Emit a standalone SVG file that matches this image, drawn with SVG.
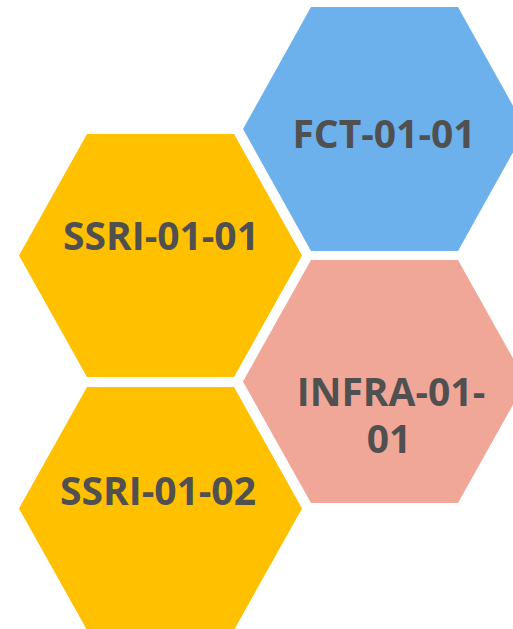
<svg xmlns="http://www.w3.org/2000/svg" width="513" height="629" viewBox="0 0 513 629">
<style>
.lbl{font-family:"Open Sans","Noto Sans","Liberation Sans",sans-serif;font-weight:bold;font-size:39px;fill:#505050;text-anchor:middle}
</style>
<rect width="513" height="629" fill="#ffffff"/>
<g id="fct">
<polygon points="311,7 458,7 526,129 458,251 311,251 243,129" fill="#6CB1EB"/>
<text class="lbl" x="384" y="148">FCT-01-01</text>
</g>
<g id="ssri1">
<polygon points="87,134 234,134 302,255.5 234,377 87,377 19,255.5" fill="#FFC000"/>
<text class="lbl" x="161" y="250">SSRI-01-01</text>
</g>
<g id="infra">
<polygon points="311,260 458,260 526,381.5 458,503 311,503 243,381.5" fill="#F0A798"/>
<text class="lbl" x="391" y="406">INFRA-01-<tspan x="389" y="453">01</tspan></text>
</g>
<g id="ssri2">
<polygon points="87,387 234,387 302,508.5 234,630 87,630 19,508.5" fill="#FFC000"/>
<text class="lbl" x="158" y="505">SSRI-01-02</text>
</g>
<g id="connectors"></g>
</svg>
